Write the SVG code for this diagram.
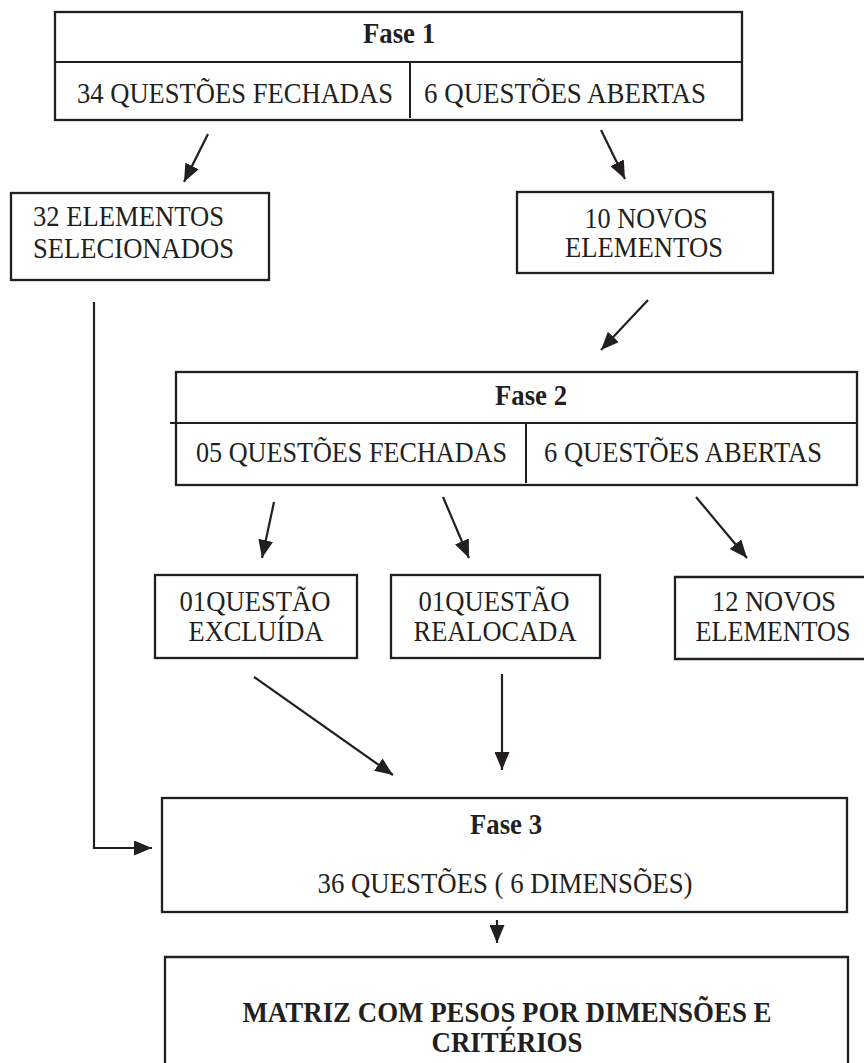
<svg xmlns="http://www.w3.org/2000/svg" width="864" height="1063" viewBox="0 0 864 1063">
<style>
.box{fill:#fff;stroke:#231f20;stroke-width:2.3}
.div{stroke:#231f20;stroke-width:2;fill:none}
.t{font-family:"Liberation Serif","Times New Roman",serif;font-size:29px;fill:#231f20}
.b{font-weight:bold;font-size:29px}
.c{text-anchor:middle}
.ar{stroke:#231f20;stroke-width:2.2;fill:none;marker-end:url(#ah)}
</style>
<defs>
<marker id="ah" markerUnits="userSpaceOnUse" markerWidth="19" markerHeight="15" refX="18" refY="7.5" orient="auto">
<path d="M0,0 L18,7.5 L0,15 z" fill="#231f20"/>
</marker>
</defs>
<rect width="864" height="1063" fill="#fff"/>

<g id="fase1">
<rect class="box" x="55" y="12" width="687" height="108"/>
<line class="div" x1="55" y1="62" x2="742" y2="62"/>
<line class="div" x1="410" y1="62" x2="410" y2="118"/>
<text class="t b c" x="399" y="43" textLength="72" lengthAdjust="spacingAndGlyphs">Fase 1</text>
<text class="t" x="77" y="103" textLength="316" lengthAdjust="spacingAndGlyphs">34 QUESTÕES FECHADAS</text>
<text class="t" x="424" y="103" textLength="282" lengthAdjust="spacingAndGlyphs">6 QUESTÕES ABERTAS</text>
</g>

<g id="elem32">
<rect class="box" x="11" y="193" width="258" height="87"/>
<text class="t" x="33" y="226" textLength="191" lengthAdjust="spacingAndGlyphs">32 ELEMENTOS</text>
<text class="t" x="33" y="258" textLength="201" lengthAdjust="spacingAndGlyphs">SELECIONADOS</text>
</g>

<g id="novos10">
<rect class="box" x="517" y="192" width="256" height="81"/>
<text class="t c" x="646" y="228" textLength="123" lengthAdjust="spacingAndGlyphs">10 NOVOS</text>
<text class="t c" x="644" y="257" textLength="158" lengthAdjust="spacingAndGlyphs">ELEMENTOS</text>
</g>

<g id="fase2">
<rect class="box" x="176" y="372" width="681" height="113"/>
<line class="div" x1="170" y1="423" x2="857" y2="423"/>
<line class="div" x1="526" y1="423" x2="526" y2="483"/>
<text class="t b c" x="531" y="405" textLength="72" lengthAdjust="spacingAndGlyphs">Fase 2</text>
<text class="t" x="196" y="462" textLength="311" lengthAdjust="spacingAndGlyphs">05 QUESTÕES FECHADAS</text>
<text class="t" x="544" y="462" textLength="278" lengthAdjust="spacingAndGlyphs">6 QUESTÕES ABERTAS</text>
</g>

<g id="excluida">
<rect class="box" x="155" y="575" width="202" height="83"/>
<text class="t c" x="255" y="611" textLength="151" lengthAdjust="spacingAndGlyphs">01QUESTÃO</text>
<text class="t c" x="256" y="641" textLength="135" lengthAdjust="spacingAndGlyphs">EXCLUÍDA</text>
</g>

<g id="realocada">
<rect class="box" x="391" y="575" width="209" height="83"/>
<text class="t c" x="494" y="611" textLength="151" lengthAdjust="spacingAndGlyphs">01QUESTÃO</text>
<text class="t c" x="495" y="641" textLength="163" lengthAdjust="spacingAndGlyphs">REALOCADA</text>
</g>

<g id="novos12">
<path class="box" d="M864,577 H675 V659 H864"/>
<text class="t c" x="774" y="611" textLength="124" lengthAdjust="spacingAndGlyphs">12 NOVOS</text>
<text class="t c" x="773" y="641" textLength="155" lengthAdjust="spacingAndGlyphs">ELEMENTOS</text>
</g>

<g id="fase3">
<rect class="box" x="162" y="798" width="685" height="114"/>
<text class="t b c" x="506" y="834" textLength="72" lengthAdjust="spacingAndGlyphs">Fase 3</text>
<text class="t c" x="505" y="893" textLength="375" lengthAdjust="spacingAndGlyphs">36 QUESTÕES ( 6 DIMENSÕES)</text>
</g>

<g id="matriz">
<path class="box" d="M165,1063 V957 H848 V1063"/>
<text class="t b c" x="507" y="1022" textLength="529" lengthAdjust="spacingAndGlyphs">MATRIZ COM PESOS POR DIMENSÕES E</text>
<text class="t b c" x="507" y="1052" textLength="151" lengthAdjust="spacingAndGlyphs">CRITÉRIOS</text>
</g>

<g id="connectors">
<line class="ar" x1="208" y1="134" x2="184" y2="182"/>
<line class="ar" x1="601" y1="130" x2="625" y2="179"/>
<line class="ar" x1="648" y1="300" x2="601" y2="350"/>
<path class="ar" d="M94,302 V848 H152"/>
<line class="ar" x1="274" y1="502" x2="262" y2="558"/>
<line class="ar" x1="443" y1="497" x2="469" y2="558"/>
<line class="ar" x1="696" y1="497" x2="747" y2="558"/>
<line class="ar" x1="254" y1="677" x2="393" y2="775"/>
<line class="ar" x1="502" y1="674" x2="502" y2="770"/>
<line class="ar" x1="497" y1="920" x2="497" y2="943"/>
</g>
</svg>
